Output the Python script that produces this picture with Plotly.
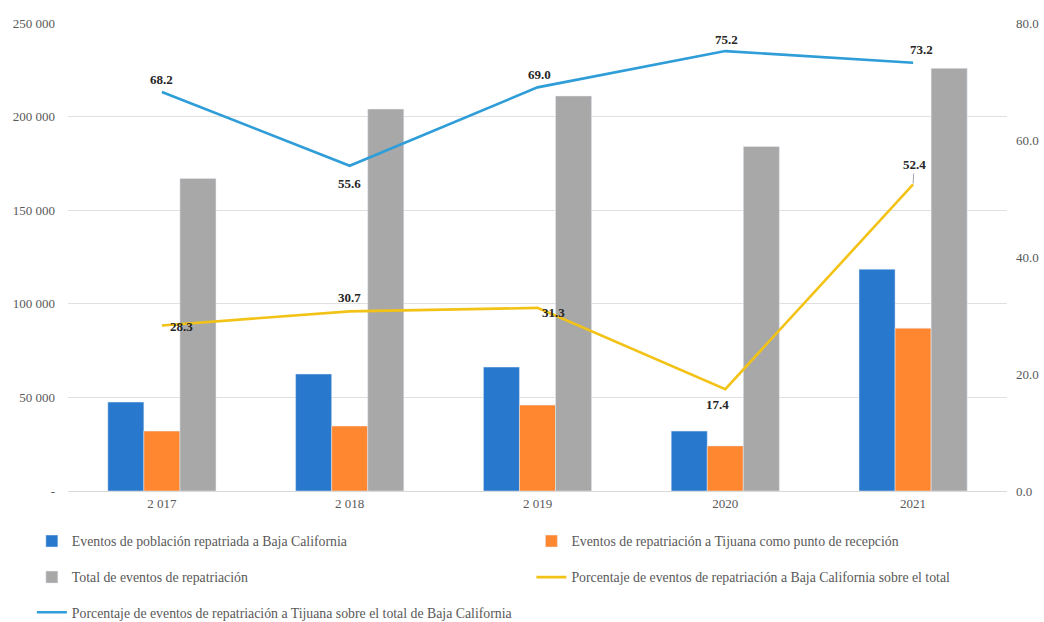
import plotly.graph_objects as go

years = ["2 017", "2 018", "2 019", "2020", "2021"]
bc_events = [47500, 62500, 66200, 32000, 118500]
tijuana_events = [32000, 34700, 45900, 24100, 87000]
total_events = [167000, 204000, 211000, 184000, 225800]
pct_bc = [28.3, 30.7, 31.3, 17.4, 52.4]
pct_tijuana = [68.2, 55.6, 69.0, 75.2, 73.2]

left_tickvals = [0, 50000, 100000, 150000, 200000, 250000]
left_ticktext = ["-", "50 000", "100 000", "150 000", "200 000", "250 000"]
right_tickvals = [0, 20, 40, 60, 80]
right_ticktext = ["0.0", "20.0", "40.0", "60.0", "80.0"]

names = [
    "Eventos de población repatriada a Baja California",
    "Eventos de repatriación a Tijuana como punto de recepción",
    "Total de eventos de repatriación",
    "Porcentaje de eventos de repatriación a Baja California sobre el total",
    "Porcentaje de eventos de repatriación a Tijuana sobre el total de Baja California",
]

FONT = "Liberation Serif"
GRAY_TXT = "#595959"

fig = go.Figure()
fig.add_trace(go.Bar(x=years, y=bc_events, name=names[0], marker_color="#2878CE", legend="legend"))
fig.add_trace(go.Bar(x=years, y=tijuana_events, name=names[1], marker_color="#FF8730", legend="legend2"))
fig.add_trace(go.Bar(x=years, y=total_events, name=names[2], marker_color="#A8A8A8", legend="legend3"))
fig.add_trace(go.Scatter(x=years, y=pct_bc, name=names[3], mode="lines", yaxis="y2",
                         line=dict(color="#F2C316", width=2.6), legend="legend4"))
fig.add_trace(go.Scatter(x=years, y=pct_tijuana, name=names[4], mode="lines", yaxis="y2",
                         line=dict(color="#2E9DD8", width=2.6), legend="legend5"))

# data labels (pixel offsets only); x given as category index
tij_shift = [(0, 13), (0, -18), (2, 13), (1, 12), (8, 13)]
bc_shift = [(20, -1), (0, 14), (16, -5), (-8, -15), (1, 19)]
lab_font = dict(family=FONT, size=13, color="#262626")
for i, v in enumerate(pct_tijuana):
    fig.add_annotation(x=i, y=v, xref="x", yref="y2", text=f"<b>{v:.1f}</b>", showarrow=False,
                       xshift=tij_shift[i][0], yshift=tij_shift[i][1], font=lab_font)
for i, v in enumerate(pct_bc):
    if i == len(pct_bc) - 1:
        # label with leader line
        fig.add_annotation(x=i, y=v, xref="x", yref="y2", text=f"<b>{v:.1f}</b>", showarrow=True,
                           arrowhead=0, arrowwidth=1, arrowcolor="#A6A6A6", ax=1, ay=-20,
                           standoff=1, font=lab_font)
    else:
        fig.add_annotation(x=i, y=v, xref="x", yref="y2", text=f"<b>{v:.1f}</b>", showarrow=False,
                           xshift=bc_shift[i][0], yshift=bc_shift[i][1], font=lab_font)

legend_common = dict(orientation="h", xref="paper", yref="paper", yanchor="middle",
                     xanchor="left",
                     font=dict(family=FONT, size=13.8, color=GRAY_TXT), bgcolor="rgba(0,0,0,0)",
                     itemwidth=30)
col1, col2 = -0.0385, 0.4935
row1, row2, row3 = -0.107, -0.184, -0.259

fig.update_layout(
    width=1044, height=622,
    margin=dict(l=68, r=37, t=23, b=131, autoexpand=False),
    paper_bgcolor="white", plot_bgcolor="white",
    barmode="group", bargap=0.424, bargroupgap=0,
    font=dict(family=FONT, size=12, color=GRAY_TXT),
    xaxis=dict(type="category", range=[-0.5, 4.5], showgrid=False, showline=True,
               linecolor="#D9D9D9", ticks="",
               tickfont=dict(family=FONT, size=13, color=GRAY_TXT)),
    yaxis=dict(range=[0, 250000], tickvals=left_tickvals, ticktext=left_ticktext,
               showgrid=True, gridcolor="#E0E0E0", gridwidth=1, zeroline=False, showline=False,
               tickfont=dict(family=FONT, size=13, color=GRAY_TXT), ticklabelstandoff=12),
    yaxis2=dict(range=[0, 80], tickvals=right_tickvals, ticktext=right_ticktext, overlaying="y",
                side="right", showgrid=False, zeroline=False, showline=False,
                tickfont=dict(family=FONT, size=13, color=GRAY_TXT), ticklabelstandoff=8),
    showlegend=True,
    legend=dict(legend_common, x=col1, y=row1),
    legend2=dict(legend_common, x=col2, y=row1),
    legend3=dict(legend_common, x=col1, y=row2),
    legend4=dict(legend_common, x=col2, y=row2),
    legend5=dict(legend_common, x=col1, y=row3),
)

fig.write_html("out.html", config={"displayModeBar": False},
               post_script="document.body.style.margin='0';")
